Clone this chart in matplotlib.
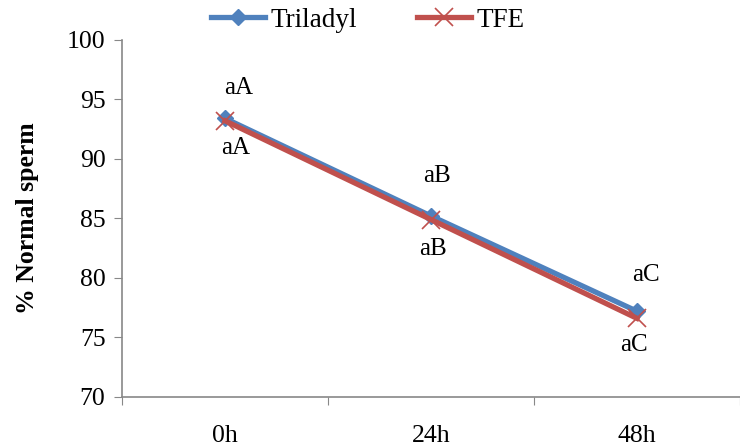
import matplotlib.pyplot as plt

plt.rcParams['font.family'] = ['Liberation Serif', 'DejaVu Serif']

# Data
times = ['0h', '24h', '48h']
triladyl = [93.4, 85.2, 77.2]
tfe = [93.2, 84.9, 76.6]
labels_above = ['aA', 'aB', 'aC']
labels_below = ['aA', 'aB', 'aC']

fig = plt.figure(figsize=(7.4, 4.48), dpi=100)
ax = fig.add_axes([0.165, 0.114, 0.835, 0.797])

x = list(range(len(times)))
ax.plot(x, triladyl, color='#4F81BD', lw=3.8, marker='D', ms=8, label='Triladyl')
ax.plot(x, tfe, color='#C0504D', lw=3.8, marker='x', ms=13, mew=1.2, label='TFE')

# significance letters (offsets in points)
above_off = [(9.7, 21.9), (4.5, 29), (6.1, 26.4)]
below_off = [(7.3, -19.5), (1.6, -20.9), (-2, -18.9)]
for i in x:
    ax.annotate(labels_above[i], (i, triladyl[i]), xytext=above_off[i],
                textcoords='offset points', ha='center', va='center', fontsize=18)
    ax.annotate(labels_below[i], (i, tfe[i]), xytext=below_off[i],
                textcoords='offset points', ha='center', va='center', fontsize=18)

ax.set_ylim(70, 100)
ax.set_yticks(range(70, 101, 5))
ax.set_xlim(-0.5, 2.457)
ax.set_xticks([-0.5, 0.5, 1.5, 2.5])
ax.set_xticklabels([])
ax.set_xticks(x, minor=True)
ax.set_xticklabels(times, minor=True)
ax.tick_params(axis='x', which='minor', length=0, pad=20, labelsize=18.5)
ax.tick_params(axis='x', which='major', length=6, color='#888888', direction='out')
ax.tick_params(axis='y', length=6, color='#888888', direction='out', labelsize=18.5, pad=6)

for s in ['top', 'right']:
    ax.spines[s].set_visible(False)
for s in ['left', 'bottom']:
    ax.spines[s].set_color('#888888')
    ax.spines[s].set_linewidth(1.2)

ax.set_ylabel('% Normal sperm', fontsize=18.5, fontweight='bold')
ax.yaxis.set_label_coords(-0.135, 0.5)

fig.legend(loc='center', bbox_to_anchor=(0.497, 0.955), ncol=2, frameon=False,
           fontsize=19.5, handlelength=2.0, columnspacing=2.2, handletextpad=0.2)

plt.savefig('out.png', dpi=100)
